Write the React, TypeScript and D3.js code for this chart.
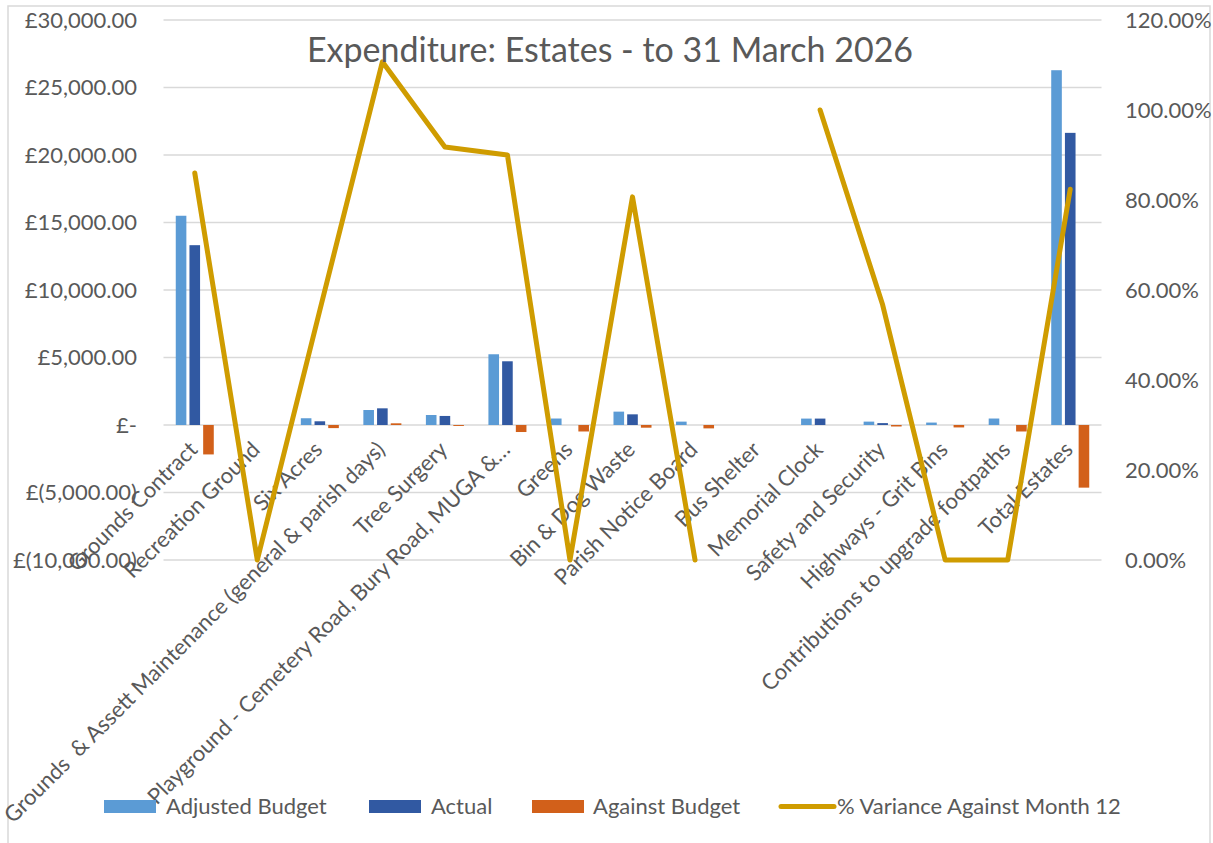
import React from "react";
import * as d3 from "d3";

const categories = [
  "Grounds Contract",
  "Recreation Ground",
  "Six Acres",
  "Grounds  & Assett Maintenance (general & parish days)",
  "Tree Surgery",
  "Playground - Cemetery Road, Bury Road, MUGA &…",
  "Greens",
  "Bin & Dog Waste",
  "Parish Notice Board",
  "Bus Shelter",
  "Memorial Clock",
  "Safety and Security",
  "Highways - Grit Bins",
  "Contributions to upgrade footpaths",
  "Total Estates",
];

const adjustedBudget = [15500, 0, 500, 1110, 740, 5240, 480, 990, 250, 0, 475, 250, 180, 480, 26280];
const actual = [13320, 0, 275, 1235, 670, 4720, 0, 790, 0, 0, 475, 140, 0, 0, 21640];
const againstBudget = [-2180, 0, -230, 125, -70, -520, -480, -200, -250, 0, 0, -110, -180, -480, -4640];
const variancePct: (number | null)[] = [0.86, 0, 0.555, 1.107, 0.918, 0.9, 0, 0.807, 0, null, 1.0, 0.567, 0, 0, 0.824];

const leftTicks = [-10000, -5000, 0, 5000, 10000, 15000, 20000, 25000, 30000];
const rightTicks = [0, 0.2, 0.4, 0.6, 0.8, 1.0, 1.2];

const seriesNames = ["Adjusted Budget", "Actual", "Against Budget"];
const seriesColors = ["#5B9BD5", "#3159A2", "#D2601A"];
const lineName = "% Variance Against Month 12";
const lineColor = "#CF9C00";
const title = "Expenditure: Estates - to 31 March 2026";

const W = 1213;
const H = 843;
const FONT = "Lato, 'Open Sans', sans-serif";
const TEXT = "#595959";
const FS = 22;

function fmtMoney(v: number): string {
  if (v === 0) return "£-";
  const s = d3.format(",.2f")(Math.abs(v));
  return v < 0 ? `£(${s})` : `£${s}`;
}

export default function App() {
  const x = d3.scaleBand<string>().domain(categories).range([163.5, 1101.5]);
  const yL = d3.scaleLinear().domain([-10000, 30000]).range([560, 20]);
  const yR = d3.scaleLinear().domain([0, 1.2]).range([560, 20]);
  const bw = x.bandwidth();
  const inner = d3
    .scaleBand<string>()
    .domain(seriesNames)
    .range([-bw * 0.304, bw * 0.304])
    .paddingInner(0.226);

  const seriesData = [adjustedBudget, actual, againstBudget];

  const line = d3
    .line<number | null>()
    .defined((d) => d !== null)
    .x((_, i) => (x(categories[i]) as number) + bw / 2)
    .y((d) => yR(d as number));

  const gx0 = x.range()[0];
  const gx1 = x.range()[1];

  return (
    <div style={{ position: "absolute", left: 0, top: 0 }}>
      <svg width={W} height={H} style={{ display: "block", background: "#fff" }}>
        <rect x={8} y={6} width={1202} height={850} fill="#fff" stroke="#d9d9d9" strokeWidth={1.5} />
        {/* gridlines */}
        {leftTicks.map((t) => (
          <line key={t} x1={gx0} x2={gx1} y1={yL(t)} y2={yL(t)} stroke="#d9d9d9" strokeWidth={1.5} />
        ))}
        {/* left ticks */}
        {leftTicks.map((t) => (
          <text
            key={"l" + t}
            x={137}
            y={yL(t)}
            dy="0.35em"
            textAnchor="end"
            fontFamily={FONT}
            fontSize={FS}
            fill={TEXT}
          >
            {fmtMoney(t)}
          </text>
        ))}
        {/* right ticks */}
        {rightTicks.map((t) => (
          <text
            key={"r" + t}
            x={1125}
            y={yR(t)}
            dy="0.35em"
            textAnchor="start"
            fontFamily={FONT}
            fontSize={FS}
            fill={TEXT}
          >
            {d3.format(".2%")(t)}
          </text>
        ))}
        {/* bars */}
        {seriesData.map((arr, si) =>
          arr.map((v, i) => {
            const cx = (x(categories[i]) as number) + bw / 2;
            const bx = cx + (inner(seriesNames[si]) as number);
            const y0 = yL(0);
            const y1 = yL(v);
            return (
              <rect
                key={si + "-" + i}
                x={bx}
                y={Math.min(y0, y1)}
                width={inner.bandwidth()}
                height={Math.abs(y1 - y0)}
                fill={seriesColors[si]}
              />
            );
          })
        )}
        {/* category labels */}
        {categories.map((c) => {
          const cx = (x(c) as number) + bw / 2;
          const ax = cx + 4;
          const ay = 451;
          return (
            <text
              key={"c" + c}
              x={ax}
              y={ay}
              textAnchor="end"
              transform={`rotate(-45 ${ax} ${ay})`}
              fontFamily={FONT}
              fontSize={FS}
              fill={TEXT}
              style={{ whiteSpace: "pre" }}
            >
              {c}
            </text>
          );
        })}
        {/* line */}
        <path
          d={line(variancePct) || ""}
          fill="none"
          stroke={lineColor}
          strokeWidth={5}
          strokeLinejoin="round"
          strokeLinecap="round"
        />
        {/* title */}
        <text x={610} y={62} textAnchor="middle" fontFamily={FONT} fontSize={34} fill={TEXT}>
          {title}
        </text>
        {/* legend */}
        <g fontFamily={FONT} fontSize={FS} fill={TEXT}>
          <rect x={104} y={800} width={52} height={13} fill={seriesColors[0]} />
          <text x={166} y={806.5} dy="0.35em">{seriesNames[0]}</text>
          <rect x={369} y={800} width={52} height={13} fill={seriesColors[1]} />
          <text x={431} y={806.5} dy="0.35em">{seriesNames[1]}</text>
          <rect x={532} y={800} width={52} height={13} fill={seriesColors[2]} />
          <text x={593} y={806.5} dy="0.35em">{seriesNames[2]}</text>
          <line x1={781} x2={834} y1={806.5} y2={806.5} stroke={lineColor} strokeWidth={5} strokeLinecap="round" />
          <text x={837} y={806.5} dy="0.35em">{lineName}</text>
        </g>
      </svg>
    </div>
  );
}
